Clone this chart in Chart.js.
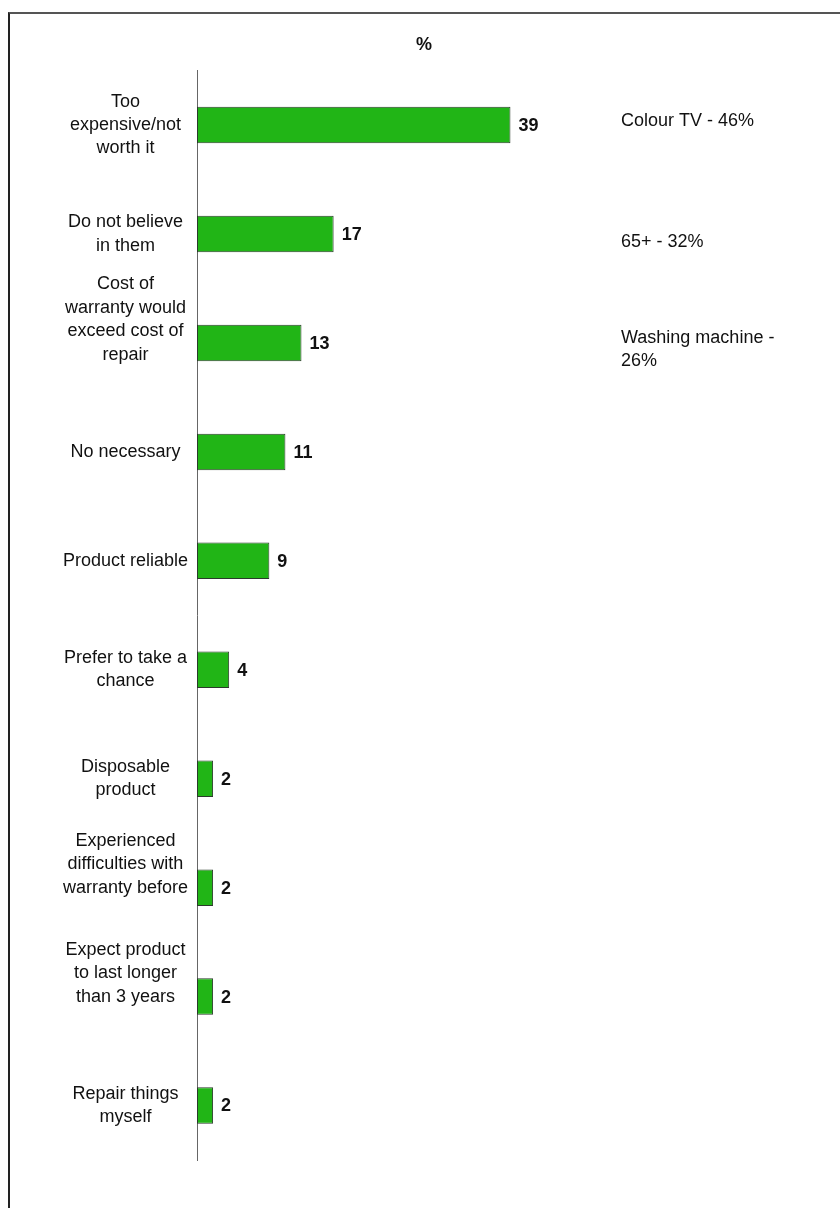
<!DOCTYPE html>
<html>
<head>
<meta charset="utf-8">
<script src="https://cdn.jsdelivr.net/npm/chart.js@4"></script>
<style>
  html, body { margin: 0; padding: 0; background: #fff; }
  #wrap { position: relative; width: 840px; height: 1208px; overflow: hidden; }
  #frame {
    position: absolute; left: 8px; top: 12px; width: 900px; height: 1300px;
    border-left: 2px solid #222; border-top: 2px solid #555;
  }
  #chart { position: absolute; left: 0; top: 0; }
</style>
</head>
<body>
<div id="wrap">
  <div id="frame"></div>
  <canvas id="chart" width="840" height="1208"></canvas>
</div>
<script>
// --- DATA ---
const reasons = [
    ['Too', 'expensive/not', 'worth it'],
    ['Do not believe', 'in them'],
    ['Cost of', 'warranty would', 'exceed cost of', 'repair'],
    ['No necessary'],
    ['Product reliable'],
    ['Prefer to take a', 'chance'],
    ['Disposable', 'product'],
    ['Experienced', 'difficulties with', 'warranty before'],
    ['Expect product', 'to last longer', 'than 3 years'],
    ['Repair things', 'myself']
];
const percents = [39, 17, 13, 11, 9, 4, 2, 2, 2, 2];

// side notes, one per reason row (top rows only)
const notes = [
    ['Colour TV - 46%'],
    ['65+ - 32%'],
    ['Washing machine -', '26%']
];

const FONT = "'Liberation Sans', Arial, sans-serif";
const TEXT = '#111';

// some long labels sit higher than their bar: pad them with blank lines below
const liftLines = [0, 0, 2, 0, 0, 0, 0, 2, 2, 0];
const tickLabels = reasons.map((r, i) => r.concat(Array(liftLines[i]).fill('')));

// value printed just past the end of each bar
const barValues = {
    id: 'barValues',
    afterDatasetsDraw(chart) {
        const ctx = chart.ctx;
        const meta = chart.getDatasetMeta(0);
        ctx.save();
        ctx.font = 'bold 18px ' + FONT;
        ctx.fillStyle = TEXT;
        ctx.textAlign = 'left';
        ctx.textBaseline = 'middle';
        meta.data.forEach((bar, i) => {
            ctx.fillText(String(percents[i]), bar.x + 8, bar.y + 1);
        });
        ctx.restore();
    }
};

// extra notes on the right side, lined up with their rows
const sideNotes = {
    id: 'sideNotes',
    afterDraw(chart) {
        const ctx = chart.ctx;
        const y = chart.scales.y;
        const shift = [-4, 8, -5];
        const lh = 23;
        ctx.save();
        ctx.font = '18px ' + FONT;
        ctx.fillStyle = TEXT;
        ctx.textAlign = 'left';
        ctx.textBaseline = 'middle';
        notes.forEach((lines, i) => {
            const top = y.getPixelForValue(i) + shift[i];
            lines.forEach((line, k) => ctx.fillText(line, 621, top + k * lh));
        });
        ctx.restore();
    }
};

new Chart(document.getElementById('chart'), {
    type: 'bar',
    data: {
        labels: tickLabels,
        datasets: [{
            data: percents,
            backgroundColor: '#21b516',
            borderColor: '#2b3a2b',
            borderWidth: 1,
            borderSkipped: false,
            categoryPercentage: 1,
            barPercentage: 0.335
        }]
    },
    options: {
        indexAxis: 'y',
        responsive: false,
        animation: false,
        devicePixelRatio: 1,
        layout: { padding: { left: 8, right: 0, top: 0, bottom: 48 } },
        plugins: {
            legend: { display: false },
            tooltip: { enabled: false },
            title: {
                display: true,
                text: '%',
                color: TEXT,
                font: { family: FONT, size: 18, weight: 'bold', lineHeight: 1.2 },
                padding: { top: 34, bottom: 15 }
            }
        },
        scales: {
            x: { display: false, min: 0, max: 80 },
            y: {
                grid: { display: false, drawTicks: false },
                border: { display: true, color: '#666', width: 1 },
                ticks: {
                    color: TEXT,
                    autoSkip: false,
                    crossAlign: 'center',
                    padding: 9,
                    font: { family: FONT, size: 18, lineHeight: 1.3 }
                },
                afterFit(scale) { scale.width = 189; }
            }
        }
    },
    plugins: [barValues, sideNotes]
});
</script>
</body>
</html>
